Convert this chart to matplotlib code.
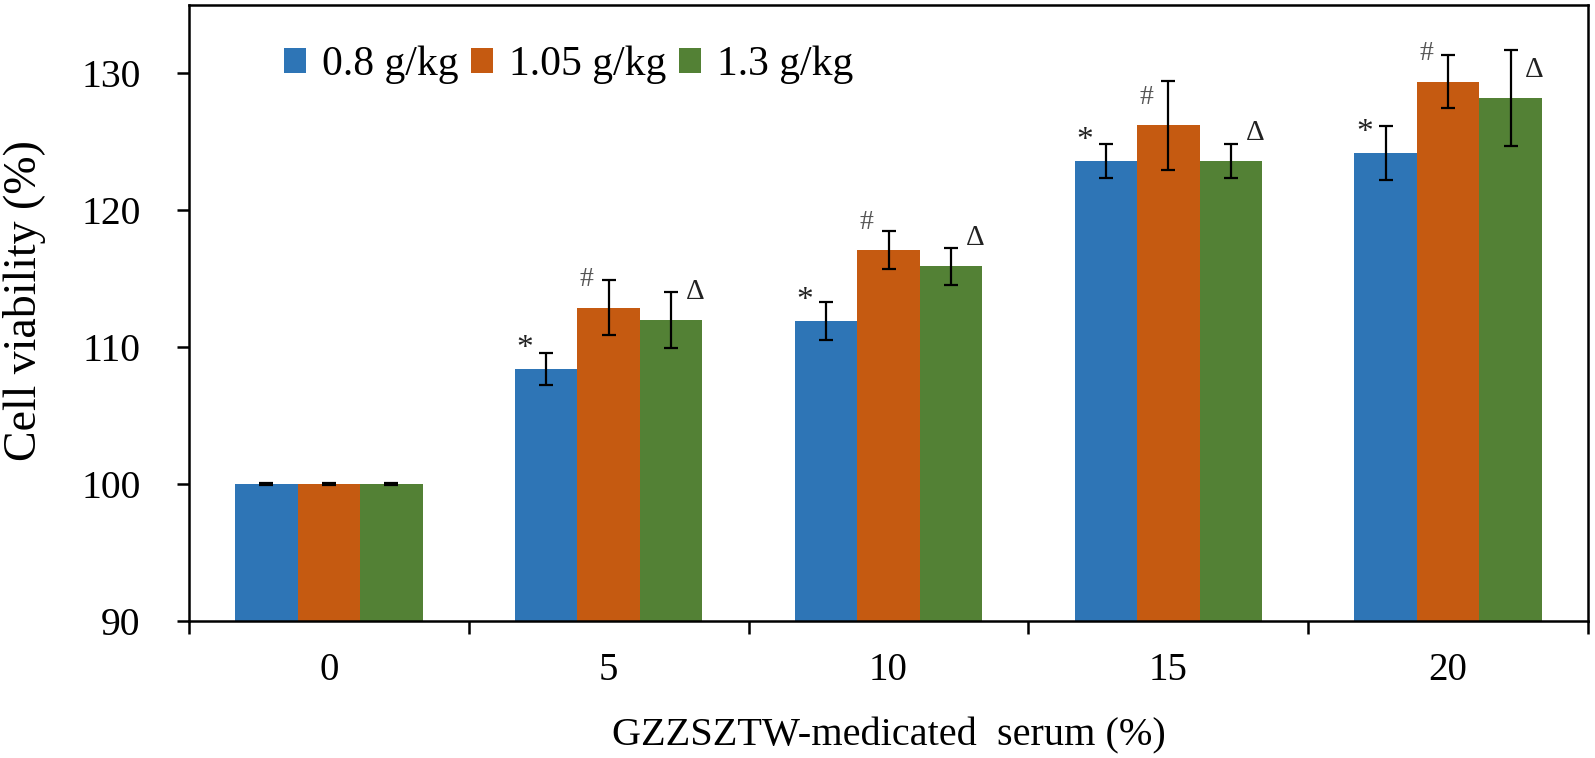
import numpy as np
import matplotlib.pyplot as plt
from matplotlib.patches import Patch

# --- data ---
serum = ["0", "5", "10", "15", "20"]
doses = ["0.8 g/kg", "1.05 g/kg", "1.3 g/kg"]
low_mean = [100.0, 108.4, 111.9, 123.6, 124.2]
low_err = [0.08, 1.17, 1.40, 1.26, 1.95]
mid_mean = [100.0, 112.9, 117.1, 126.2, 129.4]
mid_err = [0.08, 2.03, 1.38, 3.27, 1.94]
high_mean = [100.0, 112.0, 115.9, 123.6, 128.2]
high_err = [0.08, 2.05, 1.38, 1.26, 3.48]
marks = ["*", "#", "\u0394"]

colors = ["#2E75B6", "#C55A11", "#538135"]
plt.rcParams['font.family'] = ['Liberation Serif', 'DejaVu Serif']

fig = plt.figure(figsize=(15.95, 7.58), dpi=100)
ax = fig.add_axes([189 / 1595, 1 - 621 / 758, 1399 / 1595, 616 / 758])

x = np.arange(len(serum))
w = 0.2234
means = [low_mean, mid_mean, high_mean]
errs = [low_err, mid_err, high_err]
px = 0.72  # points per pixel at 100 dpi
mark_dx = [-21, -22, 24]
mark_dy = [20, 28, 28]
mark_size = [24, 20, 21]
mark_color = ['#222222', '#555555', '#222222']

for k in range(3):
    xs = x + (k - 1) * w
    ax.bar(xs, means[k], w, bottom=0, color=colors[k], linewidth=0, zorder=2)
    ax.errorbar(xs, means[k], yerr=errs[k], fmt='none', ecolor='black',
                elinewidth=1.6, capsize=4.7, capthick=1.6, zorder=3)
    for i in range(1, len(serum)):
        ax.annotate(marks[k], (xs[i], means[k][i]),
                    xytext=(mark_dx[k] * px, mark_dy[k] * px), textcoords='offset points',
                    ha='center', va='center', fontsize=mark_size[k],
                    color=mark_color[k], zorder=4)

ax.set_ylim(90, 135)
ax.set_xlim(-0.5, len(serum) - 0.5)
ax.set_yticks([90, 100, 110, 120, 130])
ax.set_xticks(x)
ax.set_xticklabels(serum)
ax.set_xticks(np.arange(-0.5, len(serum)), minor=True)
ax.tick_params(axis='x', which='major', length=0, pad=22, labelsize=28)
ax.tick_params(axis='x', which='minor', length=9, width=1.8, direction='out')
ax.tick_params(axis='y', length=9, width=1.8, direction='out', pad=26, labelsize=28.5)
for s in ax.spines.values():
    s.set_linewidth(1.8)

ax.set_ylabel("Cell viability (%)", fontsize=33)
ax.yaxis.set_label_coords(-0.102, 0.521)
ax.set_xlabel("GZZSZTW-medicated  serum (%)", fontsize=29, labelpad=21)

handles = [Patch(facecolor=c, edgecolor='none') for c in colors]
ax.legend(handles, doses, loc='upper left', bbox_to_anchor=(0.068, 0.934),
          ncol=3, frameon=False, fontsize=30, handlelength=0.53,
          handleheight=0.55, handletextpad=0.38, columnspacing=0.3,
          borderpad=0, borderaxespad=0)

fig.savefig("out.png", dpi=100)
